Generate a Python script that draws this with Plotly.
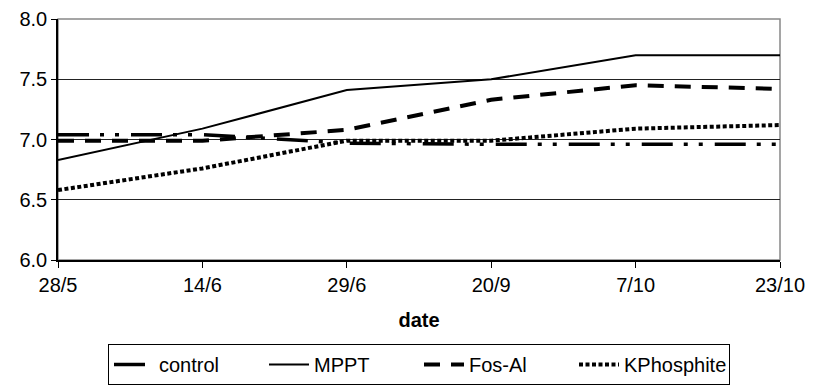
import plotly.graph_objects as go

dates = ["28/5", "14/6", "29/6", "20/9", "7/10", "23/10"]
control = [7.04, 7.04, 6.97, 6.96, 6.96, 6.96]
mppt = [6.83, 7.09, 7.41, 7.50, 7.70, 7.70]
fos_al = [6.99, 6.99, 7.08, 7.33, 7.45, 7.42]
kphosphite = [6.58, 6.76, 6.99, 6.99, 7.09, 7.12]

series = [
    ("control", control, dict(color="black", width=3.5, dash="31px,11px,4px,11px,4px,12px")),
    ("MPPT", mppt, dict(color="black", width=2)),
    ("Fos-Al", fos_al, dict(color="black", width=4, dash="16px,11px")),
    ("KPhosphite", kphosphite, dict(color="black", width=4, dash="4px,2.5px")),
]

fig = go.Figure()
for name, vals, line in series:
    fig.add_trace(go.Scatter(x=dates, y=vals, name=name, mode="lines", line=line))

font = "Liberation Sans, Arial, sans-serif"
fig.update_layout(
    width=816, height=385,
    margin=dict(l=58, r=36, t=19, b=125, autoexpand=False),
    paper_bgcolor="white", plot_bgcolor="white",
    font=dict(family=font, size=20, color="black"),
    showlegend=True,
    legend=dict(orientation="h", x=0.5, xanchor="center",
                yref="container", y=1 - 344 / 385, yanchor="top",
                bordercolor="black", borderwidth=1, font=dict(size=20),
                itemwidth=40, tracegroupgap=0, entrywidth=100, entrywidthmode="pixels"),
    shapes=[dict(type="rect", xref="paper", yref="paper", x0=0, x1=1, y0=0, y1=1,
                 line=dict(color="#888", width=1.5), layer="below")],
)
fig.update_xaxes(type="category", range=[0, 5], showgrid=False, automargin=False,
                 showline=True, linecolor="black", linewidth=1.5,
                 ticks="outside", ticklen=6, tickcolor="black",
                 title=dict(text="<b>date</b>", standoff=18, font=dict(size=20)),
                 tickfont=dict(size=20))
fig.update_yaxes(range=[6, 8], dtick=0.5, tickformat=".1f", showgrid=True, automargin=False,
                 gridcolor="#222", gridwidth=1, zeroline=False,
                 showline=True, linecolor="black", linewidth=1.5,
                 ticks="outside", ticklen=5, tickcolor="black",
                 tickfont=dict(size=20))
fig.write_html("out.html")
